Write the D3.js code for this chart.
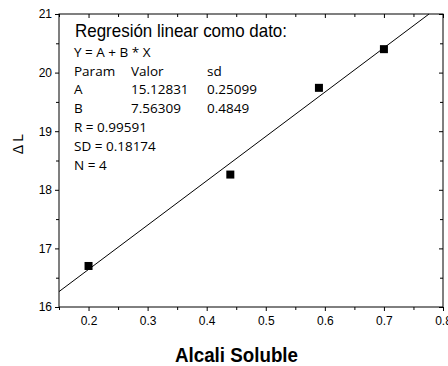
<!DOCTYPE html>
<html><head><meta charset="utf-8">
<script src="https://cdn.jsdelivr.net/npm/d3@7"></script>
<style>body{margin:0;background:#fff}svg{display:block}text{font-family:"Liberation Sans",Arial,sans-serif}</style>
</head><body>
<script>
const xValues = [0.2, 0.44, 0.59, 0.7];
const yValues = [16.7, 18.26, 19.74, 20.4];
const fitA = 15.12831, fitB = 7.56309;
const xTicks = [0.2, 0.3, 0.4, 0.5, 0.6, 0.7, 0.8];
const yTicks = [16, 17, 18, 19, 20, 21];
const xMinor = [0.15,0.25,0.35,0.45,0.55,0.65,0.75];
const yMinor = [16.5,17.5,18.5,19.5,20.5];
const statLines = ["Y = A + B * X", null, null, null, "R = 0.99591", "SD = 0.18174", "N = 4"];
const paramRows = [["Param","Valor","sd"],["A","15.12831","0.25099"],["B","7.56309","0.4849"]];

const W=448,H=366, L=59, R=443, T=14, B=307;
const svg=d3.select("body").append("svg").attr("width",W).attr("height",H);
const x=d3.scaleLinear().domain([0.15,0.8]).range([L,R]);
const y=d3.scaleLinear().domain([16,21]).range([B,T]);

svg.append("rect").attr("x",L).attr("y",T).attr("width",R-L).attr("height",B-T).attr("fill","none").attr("stroke","#000").attr("stroke-width",1);

const gx=svg.append("g").attr("transform",`translate(0,${B})`).call(d3.axisBottom(x).tickValues(xTicks).tickSize(4).tickFormat(d3.format(".1f")));
gx.append("g").call(d3.axisBottom(x).tickValues(xMinor).tickSize(3).tickFormat(""));
const gy=svg.append("g").attr("transform",`translate(${L},0)`).call(d3.axisLeft(y).tickValues(yTicks).tickSize(4).tickFormat(d3.format("d")));
gy.append("g").call(d3.axisLeft(y).tickValues(yMinor).tickSize(3).tickFormat(""));
const gt=svg.append("g").attr("transform",`translate(0,${T})`).call(d3.axisBottom(x).tickValues(xTicks).tickSize(4).tickFormat(""));
gt.append("g").call(d3.axisBottom(x).tickValues(xMinor).tickSize(3).tickFormat(""));
const gr=svg.append("g").attr("transform",`translate(${R},0)`).call(d3.axisLeft(y).tickValues(yTicks).tickSize(4).tickFormat(""));
gr.append("g").call(d3.axisLeft(y).tickValues(yMinor).tickSize(3).tickFormat(""));
svg.selectAll(".domain").remove();
svg.selectAll(".tick line").attr("stroke","#000");
svg.selectAll(".tick text").attr("font-size",12).attr("fill","#000");
gx.selectAll(".tick text").attr("dy","0.9em");

// fit line
const x0=0.15, x1=(21-fitA)/fitB;
svg.append("line").attr("x1",x(x0)).attr("y1",y(fitA+fitB*x0)).attr("x2",x(x1)).attr("y2",y(fitA+fitB*x1)).attr("stroke","#000").attr("stroke-width",1);

svg.selectAll(".pt").data(xValues).enter().append("rect").attr("class","pt")
 .attr("x",(d)=>x(d)-4).attr("y",(d,i)=>y(yValues[i])-4).attr("width",8).attr("height",8).attr("fill","#000");

// annotation
const ann=svg.append("g");
ann.append("text").attr("x",75).attr("y",37).attr("font-size",18.5).attr("textLength",212).attr("lengthAdjust","spacingAndGlyphs").text("Regresión linear como dato:");
const rowY=i=>56.7+i*18.8;
const bodyFont="'Open Sans','Noto Sans',sans-serif";
statLines.forEach((s,i)=>{ if(s) ann.append("text").attr("x",74).attr("y",rowY(i)).attr("font-size",13.5).style("font-family",bodyFont).text(s); });
const colX=[74,131,207];
paramRows.forEach((r,ri)=>r.forEach((c,ci)=>ann.append("text").attr("x",colX[ci]).attr("y",rowY(ri+1)).attr("font-size",13.5).style("font-family",bodyFont).text(c)));

svg.append("text").attr("x",236.5).attr("y",361.5).attr("text-anchor","middle").attr("font-size",21).attr("font-weight","bold").attr("textLength",123).attr("lengthAdjust","spacingAndGlyphs").text("Alcali Soluble");
svg.append("text").attr("transform","translate(23,144) rotate(-90)").attr("text-anchor","middle").attr("font-size",14).text("Δ L");
</script>
</body></html>
